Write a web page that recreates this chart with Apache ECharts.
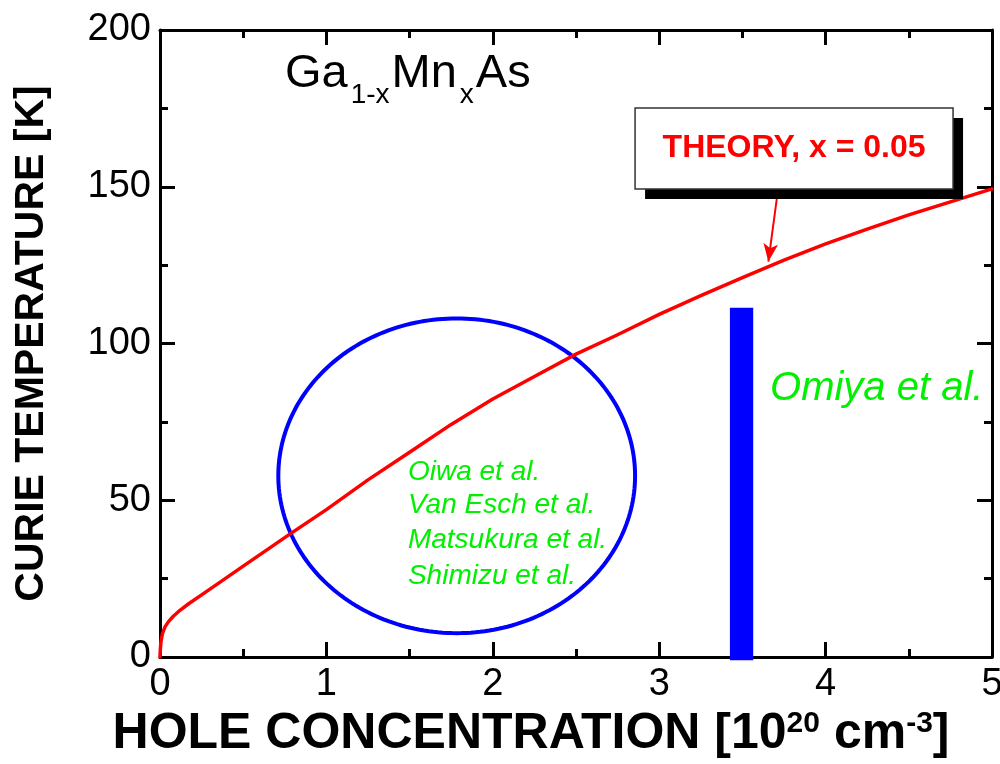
<!DOCTYPE html>
<html>
<head>
<meta charset="utf-8">
<script src="https://cdn.jsdelivr.net/npm/echarts@6/dist/echarts.min.js"></script>
<style>html,body{margin:0;padding:0;background:#fff}#c{width:1000px;height:764px}</style>
</head>
<body>
<div id="c"></div>
<script>
// ---------- data ----------
const holeConc  = [0, 0.002, 0.006, 0.015, 0.03, 0.05, 0.08, 0.12, 0.17, 0.25, 0.37, 0.5, 0.66, 0.78, 1.0, 1.25, 1.5, 1.75, 2.0, 2.25, 2.5, 2.75, 3.0, 3.25, 3.5, 3.75, 4.0, 4.25, 4.5, 4.75, 5.0];
const curieTemp = [0, 2.5, 5, 7.5, 9.6, 11.2, 13, 14.9, 16.9, 19.8, 24.2, 29, 34.8, 39.2, 47, 56.5, 65.3, 74.2, 82.3, 89.5, 96.6, 102.8, 109.3, 115.3, 121, 126.6, 131.8, 136.5, 141, 145.2, 149.3];
const ellipseCenter = [1.783, 57.8];
const ellipseRadii  = [1.072, 50.2];
const omiyaBar = [3.495, -1, 111.4, 0.14];           // x, low, high, width (data units)
const listLabels = ['Oiwa et al.', 'Van Esch et al.', 'Matsukura et al.', 'Shimizu et al.'];
const listAnchorX = 1.49;
const listAnchorY = [55.9, 45.3, 34.1, 22.6];        // baselines
const omiyaLabel = 'Omiya et al.';
const omiyaAnchor = [3.666, 81];
const theoryLabel = 'THEORY, x = 0.05';
const theoryBox = [2.855, 175.1, 4.766, 149.3];       // x1, y1, x2, y2
const arrowFrom = [3.707, 146.3];
const arrowTo = [3.656, 126.1];
const formulaParts = [['Ga', false], ['1-x', true], ['Mn', false], ['x', true], ['As', false]];
const formulaAnchor = [0.751, 180.9];
const xTicks = [0, 1, 2, 3, 4, 5];
const yTicks = [0, 50, 100, 150, 200];

// ---------- chart ----------
const FF = '"Liberation Sans", Arial, Helvetica, sans-serif';
const GREEN = '#00f000';
const chart = echarts.init(document.getElementById('c'), null, {renderer: 'canvas'});
const mctx = document.createElement('canvas').getContext('2d');
function tw(txt, size, weight) { mctx.font = (weight || 'normal') + ' ' + size + 'px ' + FF; return mctx.measureText(txt).width; }
// place text by its baseline using middle alignment
function baseTxt(x, yBase, text, size, style, fill, align) {
  return {type: 'text', style: {x: x, y: yBase - 0.3465 * size, text: text, fill: fill,
    font: style + ' ' + size + 'px ' + FF, align: align || 'left', verticalAlign: 'middle'}};
}

const axisLine = {show: true, onZero: false, lineStyle: {color: '#000', width: 3}};
const axisTick = {show: true, inside: true, length: 15, lineStyle: {color: '#000', width: 3}};
const minorTick = {show: true, splitNumber: 2, length: 8, lineStyle: {color: '#000', width: 3}};

const option = {
  animation: false,
  backgroundColor: '#fff',
  grid: {left: 160, right: 8, top: 30, bottom: 107, containLabel: false, outerBoundsMode: 'none'},
  xAxis: [
    {type: 'value', min: xTicks[0], max: xTicks[xTicks.length - 1], interval: 1, position: 'bottom',
     axisLine, axisTick, minorTick, splitLine: {show: false},
     axisLabel: {fontSize: 38, color: '#000', margin: 9, fontFamily: FF, showMaxLabel: true},
     name: '{t|HOLE CONCENTRATION [10}{s|20}{t| cm}{s|-3}{t|]}',
     nameLocation: 'middle', nameGap: 46,
     nameTextStyle: {padding: [0, 90, 0, 0], rich: {
       t: {fontSize: 50, fontWeight: 'bold', color: '#000', fontFamily: FF},
       s: {fontSize: 30, fontWeight: 'bold', color: '#000', fontFamily: FF, verticalAlign: 'top'}
     }}},
    {type: 'value', min: xTicks[0], max: xTicks[xTicks.length - 1], interval: 1, position: 'top',
     axisLine, axisTick, minorTick, splitLine: {show: false}, axisLabel: {show: false}}
  ],
  yAxis: [
    {type: 'value', min: yTicks[0], max: yTicks[yTicks.length - 1], interval: 50, position: 'left',
     axisLine, axisTick, minorTick, splitLine: {show: false},
     axisLabel: {fontSize: 38, color: '#000', margin: 9, fontFamily: FF},
     name: 'CURIE TEMPERATURE [K]', nameLocation: 'middle', nameGap: 108,
     nameTextStyle: {fontSize: 41, fontWeight: 'bold', color: '#000', fontFamily: FF}},
    {type: 'value', min: yTicks[0], max: yTicks[yTicks.length - 1], interval: 50, position: 'right',
     axisLine, axisTick, minorTick, splitLine: {show: false}, axisLabel: {show: false}}
  ],
  series: [
    {
      type: 'custom', name: 'ellipse', coordinateSystem: 'cartesian2d', z: 2, silent: true,
      data: [[ellipseCenter[0], ellipseCenter[1], ellipseRadii[0], ellipseRadii[1]]],
      renderItem(params, api) {
        const c = api.coord([api.value(0), api.value(1)]);
        const s = api.size([api.value(2), api.value(3)]);
        const pts = [];
        for (let i = 0; i < 240; i++) { const t = i / 240 * 2 * Math.PI; pts.push([c[0] + s[0] * Math.cos(t), c[1] + s[1] * Math.sin(t)]); }
        return {type: 'polygon', shape: {points: pts}, style: {fill: null, stroke: '#0000ff', lineWidth: 4}};
      }
    },
    {
      type: 'custom', name: 'omiya', coordinateSystem: 'cartesian2d', z: 2, silent: true,
      data: [omiyaBar],
      renderItem(params, api) {
        const x = api.value(0), w = api.value(3);
        const p1 = api.coord([x - w / 2, api.value(2)]);
        const p2 = api.coord([x + w / 2, api.value(1)]);
        return {type: 'rect', shape: {x: p1[0], y: p1[1], width: p2[0] - p1[0], height: p2[1] - p1[1]}, style: {fill: '#0000ff'}};
      }
    },
    {
      type: 'line', name: 'theory', z: 3, silent: true,
      data: holeConc.map((x, i) => [x, curieTemp[i]]),
      showSymbol: false, smooth: false,
      lineStyle: {color: '#ff0000', width: 3.5, join: 'round', cap: 'round'},
      markLine: {
        silent: true, symbol: ['none', 'arrow'], symbolSize: [11, 18],
        lineStyle: {color: '#ff0000', width: 2, type: 'solid'}, label: {show: false},
        data: [[{coord: arrowFrom}, {coord: arrowTo}]]
      }
    },
    {
      type: 'custom', name: 'theoryBox', coordinateSystem: 'cartesian2d', z: 5, silent: true,
      data: [theoryBox],
      renderItem(params, api) {
        const a = api.coord([api.value(0), api.value(1)]);
        const b = api.coord([api.value(2), api.value(3)]);
        const w = b[0] - a[0], h = b[1] - a[1];
        return {type: 'group', children: [
          {type: 'rect', shape: {x: a[0] + 10, y: a[1] + 10, width: w, height: h}, style: {fill: '#000'}},
          {type: 'rect', shape: {x: a[0], y: a[1], width: w, height: h}, style: {fill: '#fff', stroke: '#333', lineWidth: 1.5}},
          {type: 'text', style: {x: a[0] + w / 2, y: a[1] + h / 2, text: theoryLabel, fill: '#ff0000',
            font: 'bold 32px ' + FF, align: 'center', verticalAlign: 'middle'}}
        ]};
      }
    },
    {
      type: 'custom', name: 'refs', coordinateSystem: 'cartesian2d', z: 6, silent: true,
      data: listAnchorY.map(y => [listAnchorX, y]),
      renderItem(params, api) {
        const p = api.coord([api.value(0), api.value(1)]);
        return baseTxt(p[0], p[1], listLabels[params.dataIndex], 28, 'italic', GREEN);
      }
    },
    {
      type: 'custom', name: 'omiyaLabel', coordinateSystem: 'cartesian2d', z: 6, silent: true,
      data: [omiyaAnchor],
      renderItem(params, api) {
        const p = api.coord([api.value(0), api.value(1)]);
        return baseTxt(p[0], p[1], omiyaLabel, 40, 'italic', GREEN);
      }
    },
    {
      type: 'custom', name: 'formula', coordinateSystem: 'cartesian2d', z: 6, silent: true,
      data: [formulaAnchor],
      renderItem(params, api) {
        const p = api.coord([api.value(0), api.value(1)]);
        let x = p[0];
        const children = [];
        formulaParts.forEach(([txt, sub]) => {
          const size = sub ? 28 : 47;
          children.push(baseTxt(x, p[1] + (sub ? 15 : 0), txt, size, 'normal', '#000'));
          x += tw(txt, size) + (sub ? 2 : 3);
        });
        return {type: 'group', children};
      }
    }
  ]
};
chart.setOption(option);
</script>
</body>
</html>
